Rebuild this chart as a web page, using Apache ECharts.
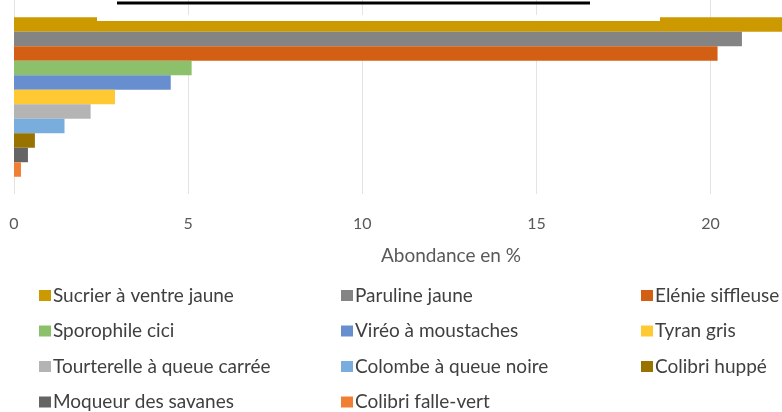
<!DOCTYPE html>
<html><head><meta charset="utf-8">
<script src="https://cdn.jsdelivr.net/npm/echarts@6/dist/echarts.min.js"></script>
<style>html,body{margin:0;padding:0;background:#fff}#c{width:782px;height:412px}</style>
</head><body><div id="c"></div>
<script>
const speciesNames = ["Sucrier à ventre jaune","Paruline jaune","Elénie siffleuse","Sporophile cici","Viréo à moustaches","Tyran gris","Tourterelle à queue carrée","Colombe à queue noire","Colibri huppé","Moqueur des savanes","Colibri falle-vert"];
const abundanceValues = [22.4, 20.9, 20.2, 5.1, 4.5, 2.9, 2.2, 1.45, 0.6, 0.4, 0.2];
const seriesColors = ["#CC9900","#848484","#D35F14","#8DC06A","#678ECF","#FFC933","#B4B4B4","#78ADDE","#987300","#646464","#F07F34"];
const xTicks = [0, 5, 10, 15, 20];
const axisTitle = "Abondance en %";

const col1 = [speciesNames[0], speciesNames[3], speciesNames[6], speciesNames[9]];
const col2 = [speciesNames[1], speciesNames[4], speciesNames[7], speciesNames[10]];
const col3 = [speciesNames[2], speciesNames[5], speciesNames[8]];

const FONT = 'Lato';
function legend(data, left) {
  return {
    data: data, orient: 'vertical', left: left, top: 286, height: 126, padding: 0,
    itemWidth: 12, itemHeight: 11, itemGap: 16.5, icon: 'rect',
    selectedMode: false,
    textStyle: {fontFamily: FONT, fontSize: 19, color: '#404040', lineHeight: 19, padding: [0,0,0,-3]}
  };
}

const chart = echarts.init(document.getElementById('c'), null, {renderer: 'canvas'});
chart.setOption({
  animation: false,
  grid: {left: 14, right: 0, top: 0, height: 194, containLabel: false},
  xAxis: {
    type: 'value', min: 0, max: 22.05, interval: 5,
    axisLine: {show: false}, axisTick: {show: false},
    splitLine: {show: true, lineStyle: {color: '#E3E3E3', width: 1}},
    axisLabel: {showMaxLabel: false, margin: 22, fontFamily: FONT, fontSize: 16, color: '#595959',
      formatter: v => xTicks.includes(v) ? String(v) : ''}
  },
  yAxis: {
    type: 'category', data: [''], inverse: true,
    axisLine: {show: false}, axisTick: {show: false}, axisLabel: {show: false}
  },
  legend: [legend(col1, 39), legend(col2, 341), legend(col3, 641)],
  series: speciesNames.map((n, i) => ({
    name: n, type: 'bar', data: [abundanceValues[i]],
    barWidth: 14.5, barGap: '0%', clip: true,
    itemStyle: {color: seriesColors[i]}
  })),
  graphic: [
    {type: 'rect', shape: {x: 97, y: 15, width: 563, height: 6}, style: {fill: '#fff'}, z: 100},
    {type: 'line', shape: {x1: 117, y1: 3, x2: 590, y2: 3}, style: {stroke: '#000', lineWidth: 3}, z: 100},
    {type: 'text', x: 451, y: 256, style: {text: axisTitle, fontFamily: FONT, fontSize: 19, fill: '#595959', align: 'center', verticalAlign: 'middle'}}
  ]
});
</script></body></html>
